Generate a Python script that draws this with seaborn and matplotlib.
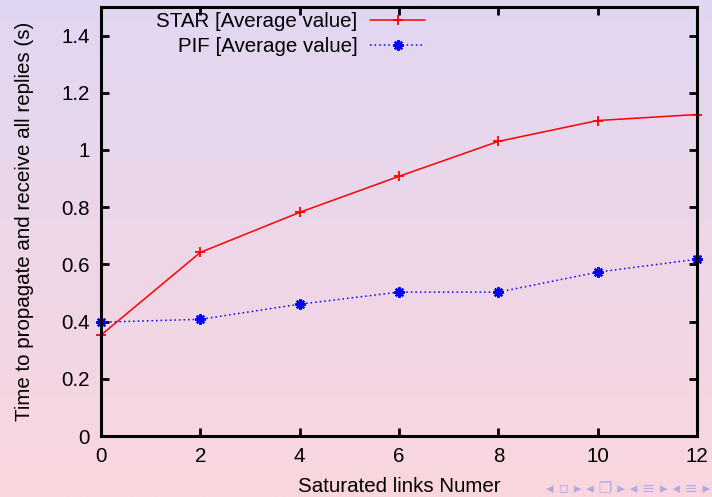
import numpy as np
import pandas as pd
import matplotlib
matplotlib.use("Agg")
import matplotlib.pyplot as plt
import seaborn as sns

x_vals = [0, 2, 4, 6, 8, 10, 12]
star_vals = [0.353, 0.642, 0.782, 0.908, 1.030, 1.103, 1.124]
pif_vals = [0.398, 0.408, 0.461, 0.503, 0.503, 0.573, 0.618]
series_names = ["STAR [Average value]", "PIF [Average value]"]
series_colors = ["#ff0000", "#0000ff"]
x_ticks = [0, 2, 4, 6, 8, 10, 12]
y_ticks = [0, 0.2, 0.4, 0.6, 0.8, 1, 1.2, 1.4]
y_tick_labels = ["0", "0.2", "0.4", "0.6", "0.8", "1", "1.2", "1.4"]

df = pd.DataFrame({
    "x": x_vals * 2,
    "y": star_vals + pif_vals,
    "series": [series_names[0]] * len(x_vals) + [series_names[1]] * len(x_vals),
})

sns.set_theme(style="ticks")
plt.rcParams["font.family"] = ["Liberation Sans", "DejaVu Sans"]
plt.rcParams["text.color"] = "black"
plt.rcParams["axes.labelcolor"] = "black"
FS = 14.8

fig = plt.figure(figsize=(7.12, 4.97), dpi=100)
fig.patch.set_alpha(0)

# background gradient
bg = fig.add_axes([0, 0, 1, 1], zorder=-10)
top = np.array([225, 215, 242]) / 255
bot = np.array([250, 214, 222]) / 255
t = np.linspace(0, 1, 256)[:, None]
grad = (top[None, :] * (1 - t) + bot[None, :] * t)[:, None, :]
bg.imshow(grad, aspect="auto", extent=[0, 1, 0, 1])
bg.set_axis_off()

ax = fig.add_axes([0.1419, 0.1227, 0.979 - 0.1419, 0.986 - 0.1227])
ax.patch.set_alpha(0)

sns.lineplot(data=df, x="x", y="y", hue="series", style="series",
             palette=dict(zip(series_names, series_colors)),
             dashes={series_names[0]: "", series_names[1]: (1, 2)},
             markers={series_names[0]: "+", series_names[1]: (8, 2, 0)},
             markersize=7, markeredgewidth=1.3, linewidth=1.1, ax=ax)

def style_line(ln):
    ln.set_markeredgecolor(ln.get_color())
    ln.set_markerfacecolor(ln.get_color())
    if tuple(np.round(matplotlib.colors.to_rgb(ln.get_color()), 2)) == (0.0, 0.0, 1.0):
        ln.set_markersize(7.5)
        ln.set_markeredgewidth(1.6)

for ln in ax.lines:
    style_line(ln)
    ln.set_clip_on(False)

ax.set_xlim(0, 12)
ax.set_ylim(0, 1.5)
ax.set_xticks(x_ticks)
ax.set_xticklabels([str(v) for v in x_ticks])
ax.set_yticks(y_ticks)
ax.set_yticklabels(y_tick_labels)
ax.tick_params(direction="in", length=6, width=2, top=True, right=True,
               labelsize=FS, colors="black", pad=8)
for s in ax.spines.values():
    s.set_linewidth(2.2)
    s.set_color("black")
    s.set_visible(True)

ax.set_xlabel("Saturated links Numer", fontsize=FS, labelpad=8, color="black")
ax.set_ylabel("Time to propagate and receive all replies (s)", fontsize=FS, labelpad=20, color="black")

leg = ax.legend(loc="upper right", bbox_to_anchor=(0.558, 1.008), frameon=False,
                markerfirst=False, fontsize=FS, handlelength=2.7,
                labelspacing=0.3, handletextpad=0.6, borderaxespad=0)
for h in leg.legend_handles:
    style_line(h)
for txt in leg.get_texts():
    txt.set_color("black")

fig.text(0.998, 0.002, "◂ ▫ ▸ ◂ ❐ ▸ ◂ ≡ ▸ ◂ ≡ ▸", ha="right", va="bottom",
         fontsize=11, color="#b4aae0", family=["DejaVu Sans"])

fig.savefig("out.png", dpi=100)
